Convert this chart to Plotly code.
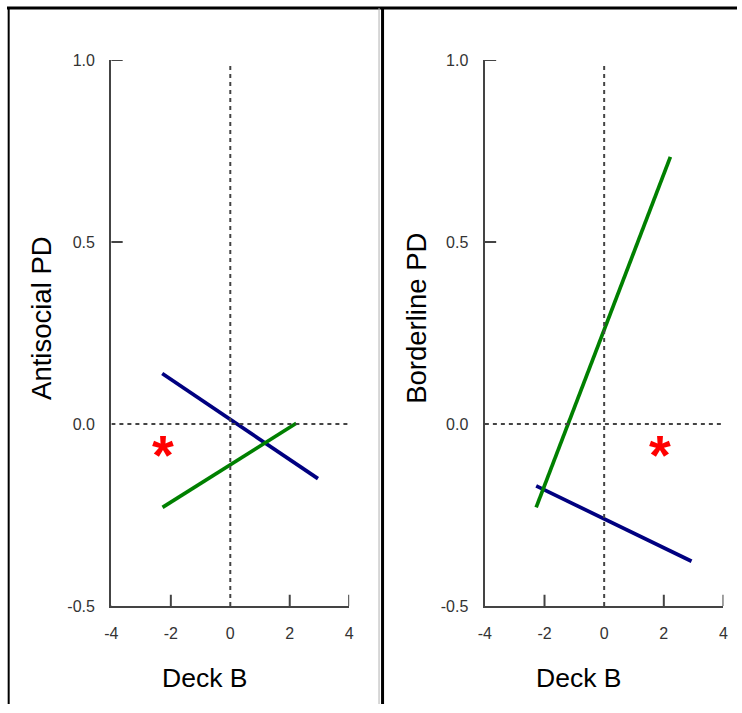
import plotly.graph_objects as go

# ---- data ----
x_ticks = [-4, -2, 0, 2, 4]
x_tick_text = ["-4", "-2", "0", "2", "4"]
y_ticks = [-0.5, 0.0, 0.5, 1.0]
y_tick_text = ["-0.5", "0.0", "0.5", "1.0"]

panel_titles_y = ["Antisocial PD", "Borderline PD"]
x_title = "Deck B"

# left panel (Antisocial PD)
anti_blue_x = [-2.29, 2.95]
anti_blue_y = [0.139, -0.150]
anti_green_x = [-2.28, 2.22]
anti_green_y = [-0.229, 0.002]
anti_star = (-2.23, -0.064)

# right panel (Borderline PD)
bord_green_x = [-2.28, 2.22]
bord_green_y = [-0.229, 0.734]
bord_blue_x = [-2.28, 2.93]
bord_blue_y = [-0.170, -0.377]
bord_star = (1.91, -0.064)

# figure size; the page keeps an 8px body margin and is photographed scaled
W, H, M = 742, 713, 8
SX, SY = W / (W + 2 * M), H / (H + 2 * M)


def px(x):
    return (x / SX - M) / W


def py(y):
    return 1 - (y / SY - M) / H


BLUE = "#000080"
GREEN = "#008000"
AX = "#444444"
FONT = "Liberation Sans, Arial, sans-serif"

fig = go.Figure()


def add_line(x, y, color, xa, ya):
    fig.add_trace(go.Scatter(x=x, y=y, mode="lines", line=dict(color=color, width=3.7),
                             xaxis=xa, yaxis=ya, showlegend=False, hoverinfo="skip"))


add_line(anti_blue_x, anti_blue_y, BLUE, "x", "y")
add_line(anti_green_x, anti_green_y, GREEN, "x", "y")
add_line(bord_blue_x, bord_blue_y, BLUE, "x2", "y2")
add_line(bord_green_x, bord_green_y, GREEN, "x2", "y2")

ydom = [py(607), py(60)]
xdoms = [[px(111.7), px(348.3)], [px(483.3), px(720.7)]]

TL = 11.3
axis_common = dict(showgrid=False, zeroline=False, showline=True, linecolor=AX, linewidth=2,
                   ticks="outside", ticklen=TL, tickcolor="rgba(0,0,0,0)",
                   tickfont=dict(family=FONT, size=16, color="#333333"), fixedrange=True)

fig.update_layout(
    width=W, height=H, margin=dict(l=0, r=0, t=0, b=0),
    paper_bgcolor="white", plot_bgcolor="white",
    xaxis=dict(domain=xdoms[0], range=[-4, 4], tickvals=x_ticks, ticktext=x_tick_text, anchor="y", **axis_common),
    yaxis=dict(domain=ydom, range=[-0.5, 1.0], tickvals=y_ticks, ticktext=y_tick_text, anchor="x", **axis_common),
    xaxis2=dict(domain=xdoms[1], range=[-4, 4], tickvals=x_ticks, ticktext=x_tick_text, anchor="y2", **axis_common),
    yaxis2=dict(domain=ydom, range=[-0.5, 1.0], tickvals=y_ticks, ticktext=y_tick_text, anchor="x2", **axis_common),
)

shapes = []
for xa, ya in [("x", "y"), ("x2", "y2")]:
    # dashed reference lines
    shapes.append(dict(type="line", xref=xa, yref=ya, x0=0, x1=0, y0=-0.5, y1=0.985,
                       line=dict(color=AX, width=2, dash="4px,4px")))
    shapes.append(dict(type="line", xref=xa, yref=ya, x0=-4, x1=4, y0=0, y1=0,
                       line=dict(color=AX, width=2, dash="4px,4px")))
    # visible ticks (crossing the axis except at the corner)
    for v in x_ticks:
        if v == 0:
            continue
        shapes.append(dict(type="line", xref=xa, yref=ya, x0=v, x1=v,
                           ysizemode="pixel", yanchor=-0.5, y0=-TL, y1=(0 if v == x_ticks[0] else TL),
                           line=dict(color=AX, width=2)))
    for v in y_ticks:
        if v == 0:
            continue
        shapes.append(dict(type="line", xref=xa, yref=ya, y0=v, y1=v,
                           xsizemode="pixel", xanchor=-4, x0=-TL, x1=(0 if v == y_ticks[0] else TL),
                           line=dict(color=AX, width=2)))

# frame
shapes.append(dict(type="line", xref="paper", yref="paper", x0=0, x1=1, y0=1, y1=1,
                   line=dict(color="black", width=3)))
shapes.append(dict(type="line", xref="paper", yref="paper", x0=px(9.5), x1=px(9.5), y0=0, y1=1,
                   line=dict(color="black", width=2)))
shapes.append(dict(type="line", xref="paper", yref="paper", x0=px(378), x1=px(378), y0=0, y1=1,
                   line=dict(color="#b0b0b0", width=1)))
shapes.append(dict(type="line", xref="paper", yref="paper", x0=px(381.5), x1=px(381.5), y0=0, y1=1,
                   line=dict(color="black", width=3)))
fig.update_layout(shapes=shapes)

annotations = []
# axis titles
for xc, yc, t in [(42, 318, panel_titles_y[0]), (415, 319, panel_titles_y[1])]:
    annotations.append(dict(xref="paper", yref="paper", x=px(xc), y=py(yc), text=t,
                            xanchor="center", yanchor="middle", textangle=-90, showarrow=False,
                            font=dict(family=FONT, size=27.5, color="black")))
for xc in [204, 576]:
    annotations.append(dict(xref="paper", yref="paper", x=px(xc), y=py(679), text=x_title,
                            xanchor="center", yanchor="middle", showarrow=False,
                            font=dict(family=FONT, size=26.5, color="black")))
# significance stars
for (sx, sy), xa, ya in [(anti_star, "x", "y"), (bord_star, "x2", "y2")]:
    annotations.append(dict(xref=xa, yref=ya, x=sx, y=sy, text="<b>*</b>", showarrow=False,
                            xanchor="center", yanchor="middle", yshift=-7, xshift=-1,
                            font=dict(family=FONT, size=56, color="#ff0000")))
fig.update_layout(annotations=annotations)

fig.write_html("out.html")
